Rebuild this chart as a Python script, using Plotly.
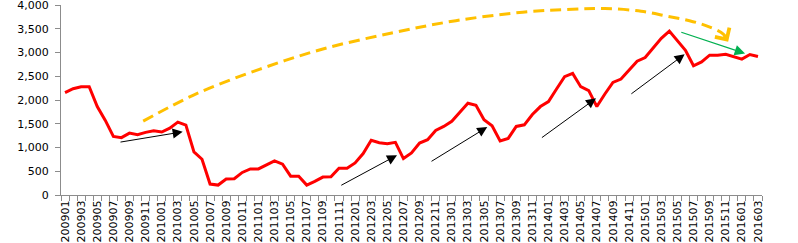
import plotly.graph_objects as go

categories = [f"{y}{m:02d}" for y in range(2009, 2017) for m in range(1, 13)]
categories = categories[:categories.index("201603") + 1]

values = [2155, 2238, 2280, 2280, 1862, 1570, 1234, 1207, 1303, 1270,
          1318, 1353, 1325, 1408, 1534, 1471, 906, 753, 230, 209,
          335, 341, 475, 550, 550, 642, 718, 649, 397, 397,
          209, 286, 377, 384, 565, 565, 676, 872, 1151, 1102,
          1081, 1109, 767, 885, 1095, 1165, 1360, 1443, 1552, 1743,
          1931, 1889, 1583, 1458, 1136, 1192, 1443, 1478, 1695, 1862,
          1967, 2231, 2490, 2559, 2280, 2197, 1862, 2127, 2371, 2441,
          2629, 2817, 2894, 3089, 3299, 3452, 3243, 3048, 2720, 2803,
          2943, 2943, 2964, 2908, 2860, 2957, 2915]

y_ticks = [0, 500, 1000, 1500, 2000, 2500, 3000, 3500, 4000]

# annotation overlays (category index, value)
black_arrows = [  # (tail_x, tail_y, head_x, head_y)
    (6.7, 1109, 14.6, 1330),
    (34.1, 188, 41.2, 837),
    (45.3, 690, 52.4, 1429),
    (59.0, 1186, 65.9, 2035),
    (70.1, 2107, 76.9, 2964),
]
green_arrow = (76.3, 3437, 84.4, 2977)
curve_x = [9.7, 16.4, 24.2, 32.0, 40.7, 48.5, 56.8, 63.0, 67.0, 71.5, 74.7, 77.5, 79.7, 81.7, 82.3]
curve_y = [1554, 2139, 2650, 3074, 3415, 3670, 3848, 3910, 3925, 3869, 3764, 3670, 3555, 3388, 3227]

idx = list(range(len(categories)))

fig = go.Figure()
fig.add_trace(go.Scatter(x=curve_x, y=curve_y, mode="lines",
                         line=dict(color="#FFC000", width=3, dash="11px,6px", shape="spline", smoothing=1.0),
                         hoverinfo="skip"))
fig.add_trace(go.Scatter(x=idx, y=values, mode="lines",
                         line=dict(color="#FF0000", width=3), hoverinfo="skip"))

anns = []
for tx, ty, hx, hy in black_arrows:
    anns.append(dict(x=hx, y=hy, ax=tx, ay=ty, xref="x", yref="y", axref="x", ayref="y",
                     text="", showarrow=True, arrowhead=2, arrowsize=2, arrowwidth=1,
                     arrowcolor="#000000"))
tx, ty, hx, hy = green_arrow
anns.append(dict(x=hx, y=hy, ax=tx, ay=ty, xref="x", yref="y", axref="x", ayref="y",
                 text="", showarrow=True, arrowhead=2, arrowsize=1.6, arrowwidth=1.3,
                 arrowcolor="#00B050"))
anns.append(dict(x=curve_x[-1], y=curve_y[-1], ax=curve_x[-2], ay=curve_y[-2],
                 xref="x", yref="y", axref="x", ayref="y",
                 text="", showarrow=True, arrowhead=4, arrowsize=1.1, arrowwidth=3,
                 arrowcolor="#FFC000"))

fig.update_layout(
    width=798, height=243,
    margin=dict(l=61, r=36, t=5, b=48, autoexpand=False),
    paper_bgcolor="white", plot_bgcolor="white",
    showlegend=False,
    font=dict(family="DejaVu Sans", size=11, color="#000000"),
    annotations=anns,
)
fig.update_xaxes(
    range=[-0.5, len(categories) - 0.5], automargin=False,
    tickmode="array", tickvals=idx[::2], ticktext=categories[::2],
    tickangle=-90, ticks="", showgrid=False, zeroline=False,
    showline=True, linecolor="#8C8C8C", linewidth=1,
    tickfont=dict(family="DejaVu Sans", size=11), ticklabeloverflow="allow",
    minor=dict(ticks="outside", tick0=-0.5, dtick=1, ticklen=5, tickcolor="#8C8C8C", showgrid=False),
)
fig.update_yaxes(
    range=[0, 4000], tickmode="array", tickvals=y_ticks, automargin=False,
    ticktext=[f"{v:,}" for v in y_ticks],
    ticks="outside", ticklen=5, tickcolor="#8C8C8C", ticklabelstandoff=4,
    ticklabeloverflow="allow",
    showgrid=False, zeroline=False, showline=True, linecolor="#8C8C8C", linewidth=1,
    tickfont=dict(family="DejaVu Sans", size=11),
)

fig.write_html("out.html")
